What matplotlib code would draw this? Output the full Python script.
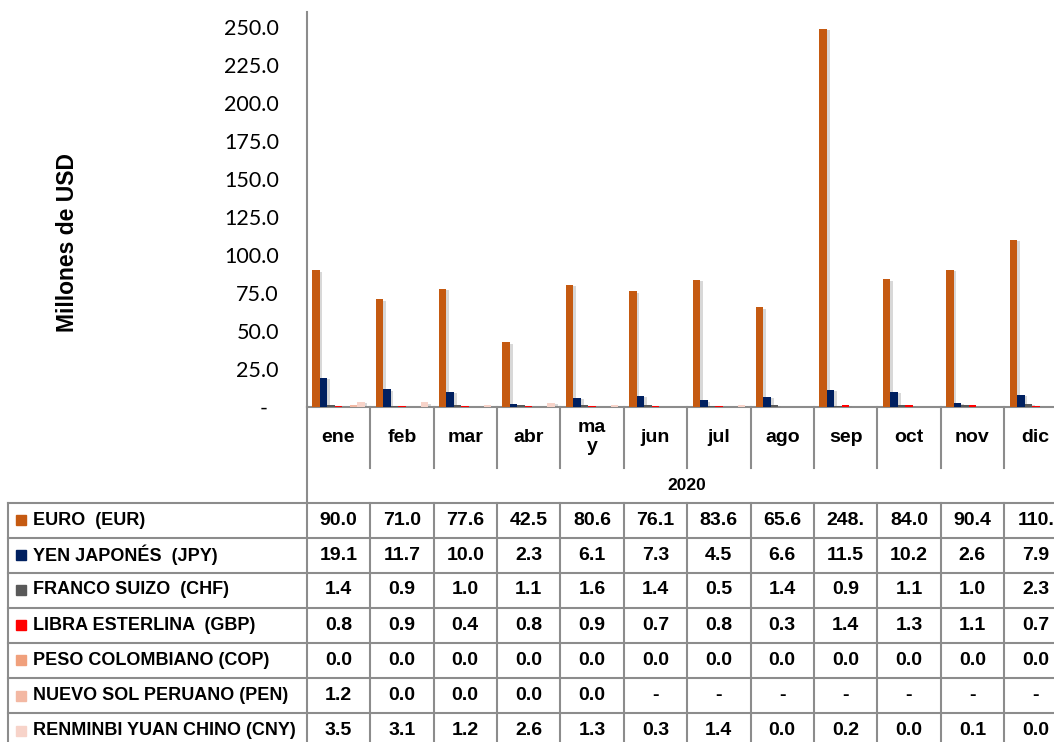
import matplotlib.pyplot as plt
import matplotlib.patheffects as pe
import numpy as np

plt.rcParams['font.family'] = ['Lato', 'DejaVu Sans']
BOLD = ['Liberation Sans', 'DejaVu Sans']

months = ['ene', 'feb', 'mar', 'abr', 'ma\ny', 'jun', 'jul', 'ago', 'sep', 'oct', 'nov', 'dic']
year = '2020'

labels = ['EURO  (EUR)', 'YEN JAPONÉS  (JPY)', 'FRANCO SUIZO  (CHF)', 'LIBRA ESTERLINA  (GBP)',
          'PESO COLOMBIANO (COP)', 'NUEVO SOL PERUANO (PEN)', 'RENMINBI YUAN CHINO (CNY)']
colors = ['#C55A11', '#002060', '#595959', '#FF0000', '#F0A07C', '#F3B8A3', '#F7D3C9']

eur = [90.0, 71.0, 77.6, 42.5, 80.6, 76.1, 83.6, 65.6, 248.8, 84.0, 90.4, 110.1]
jpy = [19.1, 11.7, 10.0, 2.3, 6.1, 7.3, 4.5, 6.6, 11.5, 10.2, 2.6, 7.9]
chf = [1.4, 0.9, 1.0, 1.1, 1.6, 1.4, 0.5, 1.4, 0.9, 1.1, 1.0, 2.3]
gbp = [0.8, 0.9, 0.4, 0.8, 0.9, 0.7, 0.8, 0.3, 1.4, 1.3, 1.1, 0.7]
cop = [0.0] * 12
pen = [1.2, 0.0, 0.0, 0.0, 0.0, None, None, None, None, None, None, None]
cny = [3.5, 3.1, 1.2, 2.6, 1.3, 0.3, 1.4, 0.0, 0.2, 0.0, 0.1, 0.0]
series = [eur, jpy, chf, gbp, cop, pen, cny]

W, H = 1054, 742
fig = plt.figure(figsize=(W / 100, H / 100), dpi=100)

# table / grid layer in pixel coordinates
tab = fig.add_axes([0, 0, 1, 1])
tab.set_xlim(0, W)
tab.set_ylim(H, 0)
tab.axis('off')

x0 = 306.7
cw = 63.4
ax_top, ax_bot = 12, 407

ax = fig.add_axes([x0 / W, 1 - ax_bot / H, 12 * cw / W, (ax_bot - ax_top) / H])
ax.patch.set_visible(False)

n = len(series)
bw = 0.118
x = np.arange(len(months))
shadow = [pe.SimplePatchShadow(offset=(2, -1), shadow_rgbFace='#808080', alpha=0.3), pe.Normal()]
for i, (s, c) in enumerate(zip(series, colors)):
    vals = [0 if v is None else v for v in s]
    bars = ax.bar(x + (i - (n - 1) / 2) * bw, vals, bw, color=c, zorder=3)
    for b in bars:
        b.set_path_effects(shadow)

ax.set_xlim(-0.5, len(months) - 0.5)
ax.set_ylim(0, 260)
ax.set_yticks(np.arange(0, 251, 25))
ax.set_yticklabels(['-  '] + [f'{t:.1f}' for t in np.arange(25, 251, 25)], fontsize=15.5)
ax.tick_params(axis='y', length=0, pad=20)
ax.set_xticks([])
for s in ['top', 'right']:
    ax.spines[s].set_visible(False)
ax.spines['left'].set_color('#8c8c8c')
ax.spines['left'].set_linewidth(1.5)
ax.spines['bottom'].set_color('#8c8c8c')
ax.spines['bottom'].set_linewidth(1.5)
fig.text(68 / W, 1 - 242 / H, 'Millones de USD', rotation=90, ha='center', va='center',
         fontsize=16.5, fontweight='bold', family=BOLD)

gc = '#8c8c8c'
lw = 1.5
# month header row
for k in range(1, 12):
    tab.plot([x0 + k * cw] * 2, [ax_bot, 468], color=gc, lw=lw)
tab.plot([x0, x0], [ax_bot, H], color=gc, lw=lw)
for k, m in enumerate(months):
    tab.text(x0 + (k + 0.5) * cw, 437, m, ha='center', va='center', fontsize=14,
             fontweight='bold', family=BOLD, linespacing=1.15)
tab.text(x0 + 6 * cw, 486, year, ha='center', va='center', fontsize=12.5, fontweight='bold',
         family=BOLD)

# data rows
rows = [502.7, 537.5, 572.5, 607.5, 642.5, 678, 713, 748]
for y in rows[:-1]:
    tab.plot([8, W], [y, y], color=gc, lw=lw)
tab.plot([8, 8], [rows[0], H], color=gc, lw=lw)
for k in range(1, 12):
    tab.plot([x0 + k * cw] * 2, [rows[0], H], color=gc, lw=lw)

for r, (lab, c, s) in enumerate(zip(labels, colors, series)):
    yc = (rows[r] + rows[r + 1]) / 2
    tab.add_patch(plt.Rectangle((16, yc - 5), 10, 10, color=c))
    tab.text(33, yc, lab, ha='left', va='center', fontsize=13, fontweight='bold', family=BOLD)
    for k, v in enumerate(s):
        txt = '-' if v is None else f'{v:.1f}'[:4]
        tab.text(x0 + (k + 0.5) * cw, yc, txt, ha='center', va='center', fontsize=14,
                 fontweight='bold', family=BOLD)

fig.savefig('out.png', dpi=100)
